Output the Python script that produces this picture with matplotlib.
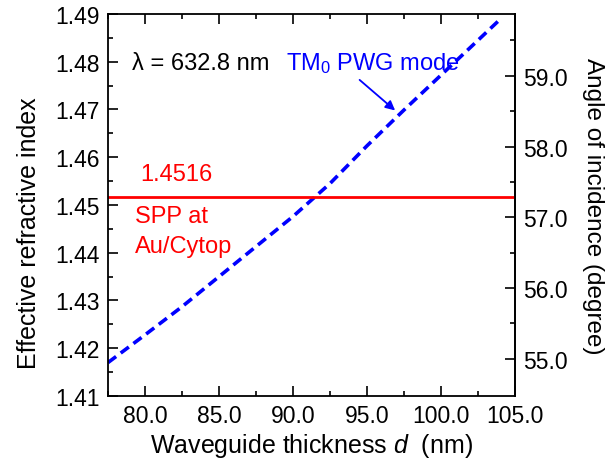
import matplotlib
matplotlib.use("Agg")
import matplotlib.pyplot as plt
from matplotlib.ticker import MultipleLocator, FormatStrFormatter, FixedLocator

plt.rcParams['font.family'] = ['Liberation Sans', 'DejaVu Sans']
plt.rcParams['mathtext.fontset'] = 'custom'
plt.rcParams['mathtext.rm'] = 'Liberation Sans'
plt.rcParams['mathtext.it'] = 'Liberation Sans:italic'

# data
thickness = [77.5, 80, 82.5, 85, 87.5, 90, 92.5, 95, 97.5, 100, 102.5, 104]
neff = [1.4170, 1.4228, 1.4287, 1.4350, 1.4413, 1.4476, 1.4545, 1.4624,
        1.4699, 1.4772, 1.4845, 1.4889]
spp_index = 1.4516
angle_ticks = [55.0, 56.0, 57.0, 58.0, 59.0]
angle_minor = [55.5, 56.5, 57.5, 58.5, 59.5]

# angle <-> index calibration of the right axis
A0, N0, SLOPE = 59.0, 1.47707, 0.01482
def n2a(n):
    return A0 + (n - N0) / SLOPE
def a2n(a):
    return N0 + (a - A0) * SLOPE

fig = plt.figure(figsize=(6.1, 4.64), dpi=100)
ax = fig.add_axes([108/610, 1-397/464, (515-108)/610, (397-15)/464])

ax.plot(thickness, neff, color='#0000ff', lw=2.6, dashes=(2.8, 1.6),
        dash_capstyle='butt')
ax.axhline(spp_index, color='#ff0000', lw=2)

ax.set_xlim(77.5, 105)
ax.set_ylim(1.41, 1.49)
ax.xaxis.set_major_locator(MultipleLocator(5))
ax.xaxis.set_minor_locator(MultipleLocator(2.5))
ax.xaxis.set_major_formatter(FormatStrFormatter('%.1f'))
ax.yaxis.set_major_locator(MultipleLocator(0.01))
ax.yaxis.set_minor_locator(MultipleLocator(0.005))
ax.yaxis.set_major_formatter(FormatStrFormatter('%.2f'))
ax.tick_params(which='both', direction='in', top=True, right=False,
               labelsize=16.5, width=1.2, pad=6)
ax.tick_params(which='major', length=7)
ax.tick_params(which='minor', length=3.5)
for s in ax.spines.values():
    s.set_linewidth(1.3)

ax.set_xlabel('Waveguide thickness $d$  (nm)', fontsize=18, labelpad=3)
ax.set_ylabel('Effective refractive index', fontsize=18)
ax.yaxis.set_label_coords(-0.165, 0.43)

sec = ax.secondary_yaxis('right', functions=(n2a, a2n))
sec.yaxis.set_major_locator(FixedLocator(angle_ticks))
sec.yaxis.set_minor_locator(FixedLocator(angle_minor))
sec.yaxis.set_major_formatter(FormatStrFormatter('%.1f'))
sec.tick_params(which='both', direction='in', labelsize=16.5, width=1.2, pad=6)
sec.tick_params(which='major', length=7)
sec.tick_params(which='minor', length=3.5)
sec.spines['right'].set_linewidth(1.3)
sec.set_ylabel('Angle of incidence (degree)', fontsize=17.5, rotation=270,
               labelpad=26)

ax.text(79.1, 1.4784, 'λ = 632.8 nm', fontsize=17, color='black', va='baseline')
ax.text(89.5, 1.4784, 'TM$_0$ PWG mode', fontsize=17, color='#0000ff', va='baseline')
ax.annotate('', xy=(96.9, 1.4698), xytext=(94.5, 1.4762),
            arrowprops=dict(arrowstyle='-|>', color='#0000ff', lw=1.3,
                            mutation_scale=14, shrinkA=0, shrinkB=0))

ax.text(79.66, 1.4565, '1.4516', fontsize=17, color='#ff0000', va='center')
ax.text(79.32, 1.4477, 'SPP at', fontsize=17, color='#ff0000', va='center')
ax.text(79.32, 1.4414, 'Au/Cytop', fontsize=17, color='#ff0000', va='center')

fig.savefig('out.png', dpi=100)
